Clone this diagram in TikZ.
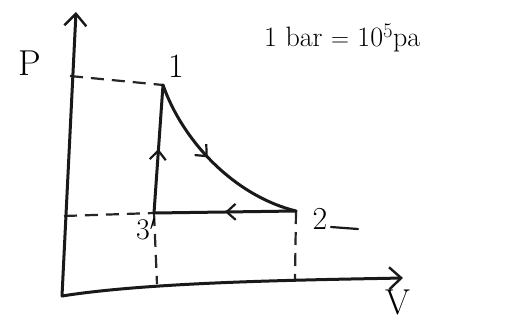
\documentclass[tikz,border=0pt]{standalone}
\usepackage{fontspec}
\usetikzlibrary{arrows.meta,decorations.markings}
\begin{document}
\begin{tikzpicture}[x=1pt,y=-1pt,
  ink/.style={line width=3pt,color=black!90,line cap=round,line join=round},
  guide/.style={line width=2.2pt,color=black!85,dash pattern=on 13pt off 8pt},
  axisarrow/.style={ink,-{Straight Barb[length=12pt,width=22pt,line width=2.4pt]}},
  midarrow/.style={postaction={decorate},decoration={markings,mark=at position #1 with {\arrow{Straight Barb[length=9pt,width=16pt,line width=2.2pt]}}}},
  lbl/.style={inner sep=0pt,font=\fontsize{36}{38}\selectfont}
]
\useasboundingbox (0,0) rectangle (517,322);
\fill[white] (0,0) rectangle (517,322);
% points
\coordinate (O) at (62,296);
\coordinate (ytop) at (76,12);
\coordinate (xend) at (403,278);
\coordinate (p1) at (163,85);
\coordinate (p3) at (154,213);
\coordinate (p2) at (296,211);
\coordinate (ya) at (70,76);
\coordinate (yb) at (64,216);
\coordinate (xa) at (157,284);
\coordinate (xb) at (295,279);
% dashed guides
\draw[guide] (ya) -- (p1);
\draw[guide] (yb) -- (p3);
\draw[guide] (p3) -- (xa);
\draw[guide] (p2) -- (xb);
% axes
\draw[axisarrow] (O) -- (ytop);
\draw[axisarrow] (O) .. controls (150,282) and (300,280) .. (xend);
% cycle
\draw[ink,midarrow=0.5] (p3) -- (p1);
\draw[ink,midarrow=0.45] (p1) .. controls (183,142) and (235,196) .. (p2);
\draw[ink,midarrow=0.5] (p2) -- (p3);
% labels
\node[lbl] (lP) at (30,63) {P};
\node[lbl] (lV) at (398,302) {V};
\node[lbl,font=\fontsize{34}{36}\selectfont] (l1) at (176,66) {1};
\node[lbl,font=\fontsize{30}{32}\selectfont] (l3) at (146,229) {3$'$};
\node[lbl,font=\fontsize{32}{34}\selectfont] (l2) at (320,219) {2};
\draw[ink,line width=2.2pt] (331,227) -- (358,229);
\node[lbl,anchor=west,font=\fontsize{28}{30}\selectfont] (eq) at (264,38) {1 bar $=$ 10$^{5}$pa};
\end{tikzpicture}
\end{document}
